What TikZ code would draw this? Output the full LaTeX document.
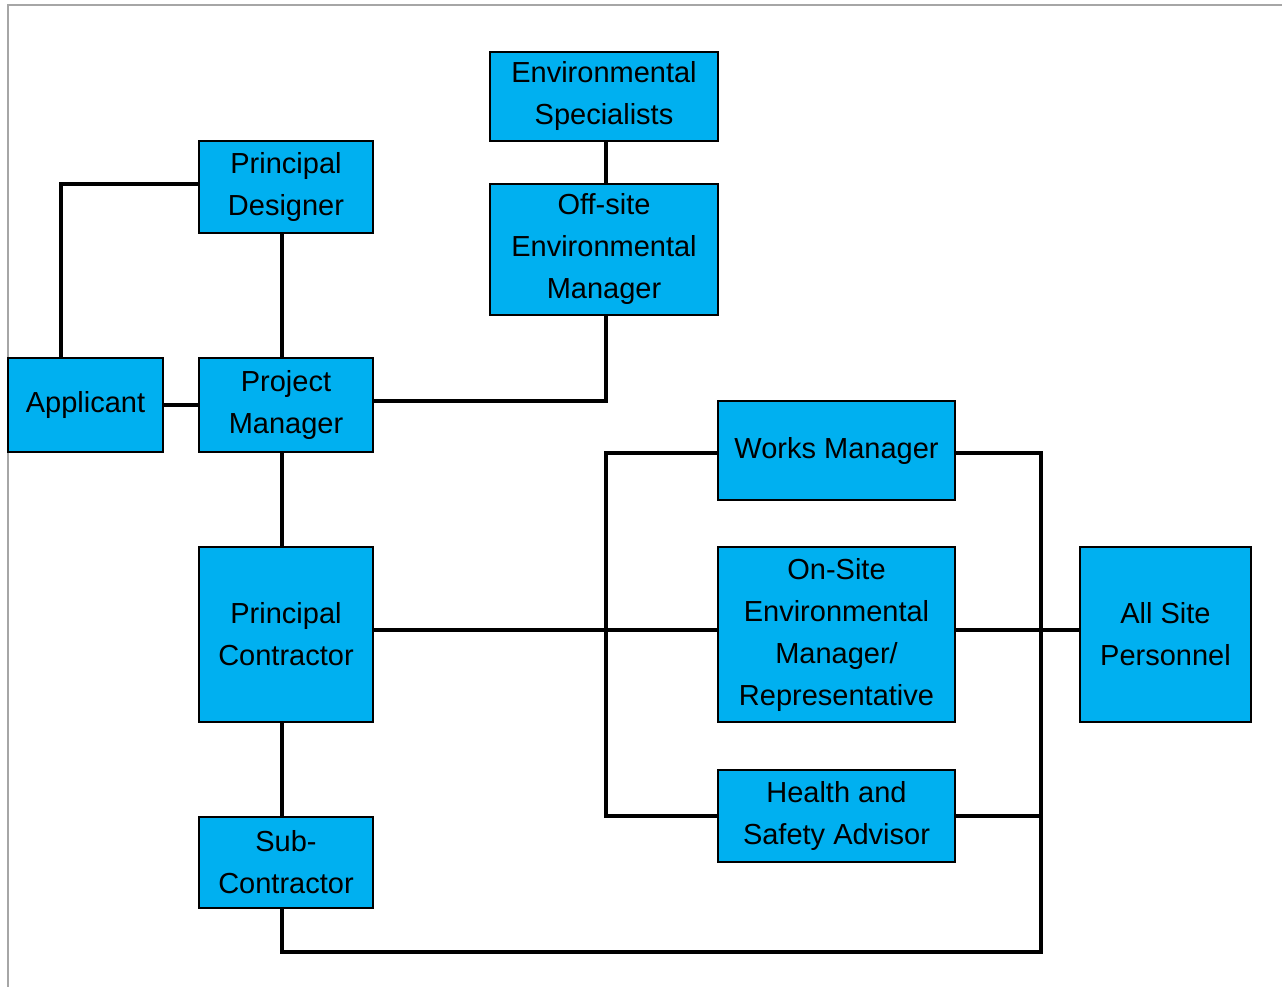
\documentclass[tikz,border=0pt]{standalone}
\usepackage{fontspec}
\setmainfont{Liberation Sans}
\definecolor{boxblue}{HTML}{00B0F0}
\definecolor{framegray}{HTML}{A6A6A6}
\begin{document}
\begin{tikzpicture}[x=1pt,y=-1pt,
  box/.style={draw=black, line width=2.5pt, fill=boxblue, inner sep=0pt, align=center,
    font=\fontsize{29}{42}\selectfont},
  conn/.style={draw=black, line width=4pt, line cap=rect}]
\useasboundingbox (0,0) rectangle (1282,987);
\draw[framegray, line width=2.5pt] (8,987) -- (8,5) -- (1282,5);
\coordinate (rb) at (1041,952);
\coordinate (lb) at (606,453);
\coordinate (vx) at (282,0);
\coordinate (ox) at (606,0);
% nodes
\node[box, minimum width=228pt, minimum height=89pt] (es) at (604,96.5) {Environmental\\Specialists};
\node[box, minimum width=228pt, minimum height=131pt] (oem) at (604,249.5) {Off-site\\Environmental\\Manager};
\node[box, minimum width=174pt, minimum height=92pt] (pd) at (286,187) {Principal\\Designer};
\node[box, minimum width=155pt, minimum height=94pt] (app) at (85.5,405) {Applicant};
\node[box, minimum width=174pt, minimum height=94pt] (pm) at (286,405) {Project\\Manager};
\node[box, minimum width=174pt, minimum height=175pt] (pc) at (286,634.5) {Principal\\Contractor};
\node[box, minimum width=174pt, minimum height=91pt] (sc) at (286,862.5) {Sub-\\Contractor};
\node[box, minimum width=237pt, minimum height=99pt] (wm) at (836.5,450.5) {Works Manager};
\node[box, minimum width=237pt, minimum height=175pt] (os) at (836.5,634.5) {On-Site\\Environmental\\Manager/\\Representative};
\node[box, minimum width=237pt, minimum height=92pt] (hs) at (836.5,816) {Health and\\Safety Advisor};
\node[box, minimum width=171pt, minimum height=175pt] (asp) at (1165.5,634.5) {All Site\\Personnel};
% connectors
\draw[conn] (es.south -| ox) -- (oem.north -| ox);
\draw[conn] (oem.south -| ox) |- ([yshift=4pt]pm.east);
\draw[conn] ([yshift=3pt]pd.west) -| ([xshift=-24.5pt]app.north);
\draw[conn] (pd.south -| vx) -- (pm.north -| vx);
\draw[conn] (app) -- (pm);
\draw[conn] (pm.south -| vx) -- (pc.north -| vx);
\draw[conn] (pc.south -| vx) -- (sc.north -| vx);
\draw[conn] ([yshift=5pt]pc.east) -- ([yshift=5pt]os.west);
\draw[conn] ([yshift=5pt]os.east) -- ([yshift=5pt]asp.west);
\draw[conn] (wm.west |- lb) -- (lb) |- (hs.west);
\draw[conn] (wm.east |- lb) -| (rb) -| (sc.south -| vx);
\draw[conn] (hs.east) -- (hs.east -| rb);
\end{tikzpicture}
\end{document}
